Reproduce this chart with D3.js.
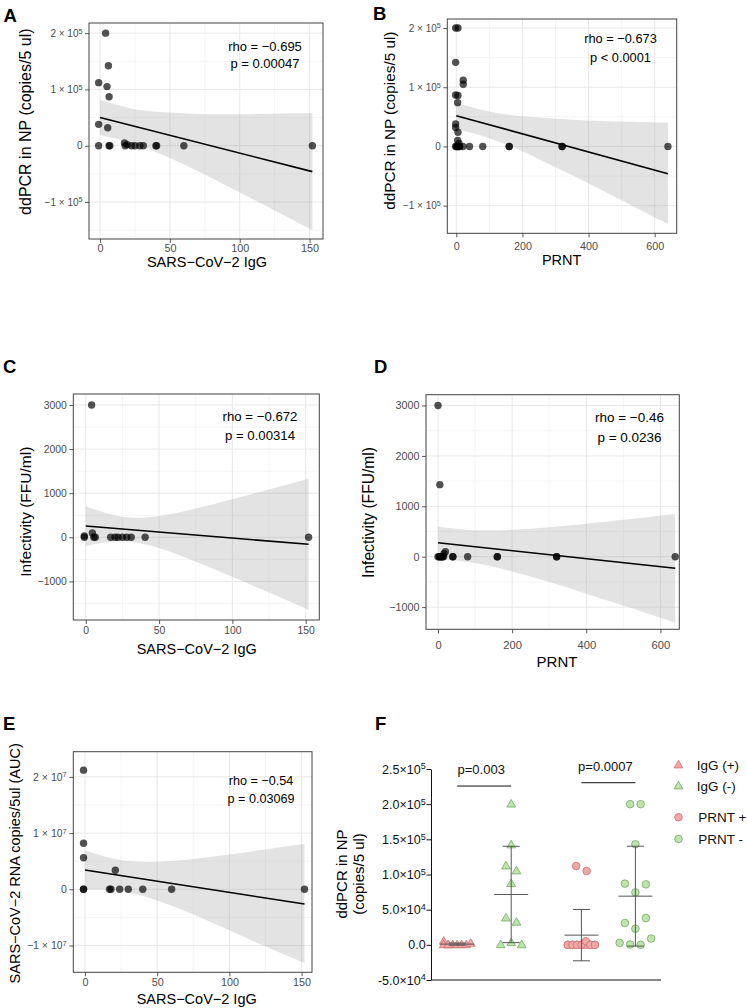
<!DOCTYPE html>
<html>
<head>
<meta charset="utf-8">
<script src="https://cdn.jsdelivr.net/npm/d3@7"></script>
<style>
body { margin: 0; background: #fff; }
svg text { font-family: "Liberation Sans", Arial, Helvetica, sans-serif; }
</style>
</head>
<body>
<div id="fig"></div>
<script>
// ---- panel A : ddPCR vs SARS-CoV-2 IgG ----
var aX = [4, 6, -1, 5, 6.5, -1, 5.5, -1, 6.5, 7, 17.5, 18, 19.5, 22.5, 25, 28.5, 31, 40, 40.5, 60, 152];
var aY = [200000, 142000, 112000, 105000, 87000, 38000, 32000, 0, 0, 0, 5000, 0, 2000, 0, 0, 0, 0, 0, 0, 0, 0];
var aBandX = [0, 25, 50, 75, 100, 125, 152];
var aBandLo = [19000, 3000, -22000, -51000, -83000, -115000, -150000];
var aBandHi = [81000, 65000, 59000, 56000, 56000, 57000, 58000];
var aFitX = [0, 152], aFitY = [50000, -46000];
var aXTicks = [0, 50, 100, 150], aYTicks = [-100000, 0, 100000, 200000];
var aStats = ["rho = \u22120.695", "p = 0.00047"];

// ---- panel B : ddPCR vs PRNT ----
var bX = [-2, 5, -2, 21, 21, -2, 5, 4, -2, -2, 5, 4, 8, -2, 0, 3, 5, 8, 10, 20, 40, 80, 160, 160, 320, 320, 640];
var bY = [200000, 200000, 142000, 112000, 105000, 87000, 86000, 74000, 38000, 32000, 24000, 10000, 5000, 0, 0, 0, 0, 0, 0, 0, 0, 0, 0, 0, 0, 0, 0];
var bBandX = [0, 100, 200, 300, 400, 500, 640];
var bBandLo = [30000, 14000, -8000, -35000, -62000, -91000, -131000];
var bBandHi = [74000, 59000, 51000, 47000, 44000, 42000, 40000];
var bFitX = [0, 640], bFitY = [52000, -46000];
var bXTicks = [0, 200, 400, 600], bYTicks = [-100000, 0, 100000, 200000];
var bStats = ["rho = \u22120.673", "p < 0.0001"];

// ---- panel C : infectivity vs IgG ----
var cX = [-1, -1, 4, 4.5, 5.5, 6.5, 17, 20, 22, 25, 28, 31, 40.5, 152];
var cY = [30, 0, 3000, 100, 0, 0, 0, 0, 0, 0, 0, 0, 0, 0];
var cBandX = [0, 25, 50, 75, 100, 125, 152];
var cBandLo = [-194, -89, -242, -552, -897, -1254, -1644];
var cBandHi = [706, 465, 482, 654, 863, 1084, 1326];
var cFitX = [0, 152], cFitY = [256, -159];
var cXTicks = [0, 50, 100, 150], cYTicks = [-1000, 0, 1000, 2000, 3000];
var cStats = ["rho = \u22120.672", "p = 0.00314"];

// ---- panel D : infectivity vs PRNT ----
var dX = [0, 5, 0, 3, 5, 8, 10, 12, 15, 16, 20, 40, 40, 80, 160, 160, 320, 320, 640];
var dY = [3000, 1430, 0, 0, 0, 0, 0, 0, 0, 60, 100, 0, 0, 0, 0, 0, 0, 0, 0];
var dBandX = [0, 100, 200, 300, 400, 500, 640];
var dBandLo = [-39, -127, -295, -504, -733, -969, -1308];
var dBandHi = [595, 525, 533, 584, 653, 731, 848];
var dFitX = [0, 640], dFitY = [278, -230];
var dXTicks = [0, 200, 400, 600], dYTicks = [-1000, 0, 1000, 2000, 3000];
var dStats = ["rho = \u22120.46", "p = 0.0236"];

// ---- panel E : RNA AUC vs IgG ----
var eX = [-1, -1, -1, 21, -1, -1, 17, 18, 24, 30, 40, 60, 152];
var eY = [21200000, 8200000, 5600000, 3400000, 0, 0, 0, 0, 0, 0, 0, 0, 0];
var eBandX = [0, 25, 50, 75, 100, 125, 152];
var eBandLo = [0, -300000, -2000000, -4500000, -7300000, -10200000, -13100000];
var eBandHi = [6900000, 5200000, 4900000, 5400000, 6200000, 7100000, 8100000];
var eFitX = [0, 152], eFitY = [3430000, -2620000];
var eXTicks = [0, 50, 100, 150], eYTicks = [-10000000, 0, 10000000, 20000000];
var eStats = ["rho = \u22120.54", "p = 0.03069"];

// ---- panel F : ddPCR by serostatus ----
var fNames = ["IgG (+)", "IgG (-)", "PRNT +", "PRNT -"];
var fIgGPos = [5000, 0, 0, 0, 0, 0, 2000, 0, 0];
var fIgGNeg = [200000, 142000, 112000, 105000, 87000, 38000, 32000, 0, 3000, 0];
var fPrntPos = [112000, 105000, 0, 0, 0, 0, 0, 0, 0, 0, 0, 0, 0, 5200, 0, 0];
var fPrntNeg = [200000, 200000, 143000, 87000, 74500, 86000, 31000, 23000, 38000, 2800, 500, 0, 9000];
var fMean = [1000, 71600, 13800, 69200];
var fSD = [1500, 68500, 36500, 71000];
var fYTicks = [-50000, 0, 50000, 100000, 150000, 200000, 250000];
var fP = ["p=0.003", "p=0.0007"];

var svg = d3.select("#fig").append("svg")
  .attr("width", 747).attr("height", 1008)
  .style("background", "#fff");

function sciTicks(sel, exp, fs) {
  sel.selectAll(".tick text").each(function(d) {
    var t = d3.select(this).text(null);
    if (d === 0) { t.text("0"); return; }
    var m = d / Math.pow(10, exp);
    t.append("tspan").text((m < 0 ? "\u2212" : "") + Math.abs(m) + " \u00d7 10");
    t.append("tspan").attr("dy", "-0.45em").attr("font-size", (fs * 0.72) + "px").text(exp);
  });
}

function styleAxis(sel, fs, col) {
  sel.attr("font-size", fs).attr("font-family", null);
  sel.select(".domain").remove();
  sel.selectAll(".tick line").attr("stroke", "#333").attr("stroke-width", 0.8);
  sel.selectAll(".tick text").attr("fill", col);
}

function scatterPanel(p) {
  var b = p.box;
  var x = d3.scaleLinear().domain(p.xDom).range([b.l, b.r]);
  var y = d3.scaleLinear().domain(p.yDom).range([b.b, b.t]);
  var g = svg.append("g");

  g.append("rect").attr("x", b.l).attr("y", b.t).attr("width", b.r - b.l).attr("height", b.b - b.t).attr("fill", "#fff");

  g.selectAll(".xmin").data(p.xMinor).enter().append("line")
    .attr("x1", x).attr("x2", x).attr("y1", b.t).attr("y2", b.b).attr("stroke", "#f5f5f5");
  g.selectAll(".ymin").data(p.yMinor).enter().append("line")
    .attr("y1", y).attr("y2", y).attr("x1", b.l).attr("x2", b.r).attr("stroke", "#f5f5f5");
  g.selectAll(".xmaj").data(p.xTicks).enter().append("line")
    .attr("x1", x).attr("x2", x).attr("y1", b.t).attr("y2", b.b).attr("stroke", "#e8e8e8");
  g.selectAll(".ymaj").data(p.yTicks).enter().append("line")
    .attr("y1", y).attr("y2", y).attr("x1", b.l).attr("x2", b.r).attr("stroke", "#e8e8e8");

  var band = p.bandX.map(function(v, i) { return {x: v, lo: p.bandLo[i], hi: p.bandHi[i]}; });
  g.append("path").datum(band)
    .attr("d", d3.area().x(function(d) { return x(d.x); })
      .y0(function(d) { return y(d.lo); }).y1(function(d) { return y(d.hi); })
      .curve(d3.curveNatural))
    .attr("fill", "#999").attr("fill-opacity", 0.28);

  g.selectAll("circle.pt").data(p.xs).enter().append("circle")
    .attr("class", "pt")
    .attr("cx", function(d) { return x(d); })
    .attr("cy", function(d, i) { return y(p.ys[i]); })
    .attr("r", 3.7)
    .attr("fill", "#000").attr("fill-opacity", 0.68);

  var fit = p.fitX.map(function(v, i) { return [v, p.fitY[i]]; });
  g.append("path").datum(fit)
    .attr("d", d3.line().x(function(d) { return x(d[0]); }).y(function(d) { return y(d[1]); }))
    .attr("fill", "none").attr("stroke", "#000").attr("stroke-width", 1.6);

  g.append("rect").attr("x", b.l).attr("y", b.t).attr("width", b.r - b.l).attr("height", b.b - b.t)
    .attr("fill", "none").attr("stroke", "#444").attr("stroke-width", 1);

  var xa = g.append("g").attr("transform", "translate(0," + b.b + ")")
    .call(d3.axisBottom(x).tickValues(p.xTicks).tickSize(4)
      .tickPadding(p.xTickBase - b.b - 4 - 0.71 * p.tickFs).tickFormat(d3.format("d")));
  styleAxis(xa, p.tickFs, "#4d4d4d");

  var ya = g.append("g").attr("transform", "translate(" + b.l + ",0)")
    .call(d3.axisLeft(y).tickValues(p.yTicks).tickSize(4).tickPadding(2.5).tickFormat(d3.format("d")));
  styleAxis(ya, p.yTickFs, "#4d4d4d");
  if (p.exp) sciTicks(ya, p.exp, p.yTickFs);

  g.append("text").attr("x", p.xTitleX).attr("y", p.xTitleY)
    .attr("text-anchor", "middle").attr("font-size", p.xTitleFs).text(p.xTitle);
  g.append("text").attr("transform", "translate(" + p.yTitleX + "," + p.yTitleY + ") rotate(-90)")
    .attr("text-anchor", "middle").attr("dy", "0.35em").attr("font-size", p.yTitleFs).text(p.yTitle);

  g.selectAll("text.stat").data(p.stats).enter().append("text")
    .attr("class", "stat")
    .attr("x", p.statX).attr("y", function(d, i) { return p.statY[i]; })
    .attr("dy", "0.35em").attr("text-anchor", "middle")
    .attr("font-size", p.statFs).text(function(d) { return d; });

  svg.append("text").attr("x", p.lx).attr("y", p.ly)
    .attr("font-size", 18.5).attr("font-weight", "bold").text(p.letter);
}

var igg = "SARS\u2212CoV\u22122 IgG";
var panels = [
  {letter: "A", lx: 3.5, ly: 21.5, xs: aX, ys: aY, bandX: aBandX, bandLo: aBandLo, bandHi: aBandHi, fitX: aFitX, fitY: aFitY,
   box: {l: 89, r: 323, t: 23, b: 239}, xDom: [-7.9, 159.6], yDom: [-165700, 218000],
   xTicks: aXTicks, xMinor: [25, 75, 125], yTicks: aYTicks, yMinor: [-150000, -50000, 50000, 150000], exp: 5,
   tickFs: 10.8, yTickFs: 10, xTickBase: 251.5, xTitle: igg, xTitleX: 207, xTitleY: 267, xTitleFs: 14.5,
   yTitle: "ddPCR in NP (copies/5 ul)", yTitleX: 25, yTitleY: 121.7, yTitleFs: 16,
   stats: aStats, statX: 265, statY: [46, 63], statFs: 13},
  {letter: "B", lx: 373, ly: 20, xs: bX, ys: bY, bandX: bBandX, bandLo: bBandLo, bandHi: bBandHi, fitX: bFitX, fitY: bFitY,
   box: {l: 447.3, r: 676.7, t: 19, b: 233.3}, xDom: [-27.2, 666.5], yDom: [-146600, 215200],
   xTicks: bXTicks, xMinor: [100, 300, 500], yTicks: bYTicks, yMinor: [-50000, 50000, 150000], exp: 5,
   tickFs: 10.8, yTickFs: 10, xTickBase: 250.5, xTitle: "PRNT", xTitleX: 561.7, xTitleY: 264.5, xTitleFs: 14.5,
   yTitle: "ddPCR in NP (copies/5 ul)", yTitleX: 389.3, yTitleY: 120.7, yTitleFs: 15.3,
   stats: bStats, statX: 620.5, statY: [39, 57.7], statFs: 12.8},
  {letter: "C", lx: 3, ly: 373, xs: cX, ys: cY, bandX: cBandX, bandLo: cBandLo, bandHi: cBandHi, fitX: cFitX, fitY: cFitY,
   box: {l: 73.3, r: 319.3, t: 394, b: 620}, xDom: [-8.5, 159.3], yDom: [-1875, 3249],
   xTicks: cXTicks, xMinor: [25, 75, 125], yTicks: cYTicks, yMinor: [-1500, -500, 500, 1500, 2500], exp: 0,
   tickFs: 10.4, yTickFs: 10.4, xTickBase: 634, xTitle: igg, xTitleX: 196.7, xTitleY: 653.5, xTitleFs: 14.5,
   yTitle: "Infectivity (FFU/ml)", yTitleX: 25.7, yTitleY: 511.7, yTitleFs: 15.5,
   stats: cStats, statX: 260, statY: [416.5, 435.8], statFs: 13.2},
  {letter: "D", lx: 374, ly: 373, xs: dX, ys: dY, bandX: dBandX, bandLo: dBandLo, bandHi: dBandHi, fitX: dFitX, fitY: dFitY,
   box: {l: 426, r: 679.3, t: 394.7, b: 629.3}, xDom: [-32.4, 651], yDom: [-1440, 3214],
   xTicks: dXTicks, xMinor: [100, 300, 500], yTicks: dYTicks, yMinor: [-500, 500, 1500, 2500], exp: 0,
   tickFs: 11.2, yTickFs: 10.8, xTickBase: 649.5, xTitle: "PRNT", xTitleX: 557, xTitleY: 667, xTitleFs: 15,
   yTitle: "Infectivity (FFU/ml)", yTitleX: 368.3, yTitleY: 512.5, yTitleFs: 15.6,
   stats: dStats, statX: 629.5, statY: [417, 437.5], statFs: 13.5},
  {letter: "E", lx: 3, ly: 730, xs: eX, ys: eY, bandX: eBandX, bandLo: eBandLo, bandHi: eBandHi, fitX: eFitX, fitY: eFitY,
   box: {l: 73.3, r: 312, t: 751.7, b: 972.3}, xDom: [-8.1, 157.2], yDom: [-14770000, 24480000],
   xTicks: eXTicks, xMinor: [25, 75, 125], yTicks: eYTicks, yMinor: [-5000000, 5000000, 15000000], exp: 7,
   tickFs: 10.8, yTickFs: 10.5, xTickBase: 986.5, xTitle: igg, xTitleX: 196.7, xTitleY: 1003.5, xTitleFs: 14.5,
   yTitle: "SARS\u2212CoV\u22122 RNA copies/5ul (AUC)", yTitleX: 15, yTitleY: 863.3, yTitleFs: 14.5,
   stats: eStats, statX: 261, statY: [780.7, 799], statFs: 12.6}
];
panels.forEach(scatterPanel);

// ---- panel F ----
var pink = {fill: "#f2a6a6", stroke: "#c97474"}, green = {fill: "#bfe3ae", stroke: "#76a862"};
var fSeries = [
  {name: fNames[0], pair: "IgG", side: "+", shape: "tri", col: pink, vals: fIgGPos},
  {name: fNames[1], pair: "IgG", side: "-", shape: "tri", col: green, vals: fIgGNeg},
  {name: fNames[2], pair: "PRNT", side: "+", shape: "dot", col: pink, vals: fPrntPos},
  {name: fNames[3], pair: "PRNT", side: "-", shape: "dot", col: green, vals: fPrntNeg}
];

var yF = d3.scaleLinear().domain([-50000, 250000]).range([980, 769]);
var pairX = d3.scalePoint().domain(["IgG", "PRNT"]).range([484.2, 608.4]);
var sideX = d3.scalePoint().domain(["+", "-"]).range([-27, 27]);
var triPath = "M0,-4.7L4.4,2.9L-4.4,2.9Z";

function swarm(vals) {
  var rows = [], cur = null;
  vals.forEach(function(v, i) {
    var py = yF(v);
    if (!cur || Math.abs(py - cur.y0) > 12) { cur = {y0: py, idx: []}; rows.push(cur); }
    cur.idx.push(i);
  });
  var off = [];
  rows.forEach(function(r) {
    var n = r.idx.length, w = Math.min(n, 7), sp = n <= 4 ? 10.5 : 4.5;
    r.idx.forEach(function(k, j) { off[k] = ((j % w) - (w - 1) / 2) * sp; });
  });
  return off;
}

var gF = svg.append("g");
fSeries.forEach(function(s, si) {
  var cx = pairX(s.pair) + sideX(s.side);
  var off = swarm(s.vals);
  gF.append("g").selectAll("path").data(s.vals).enter().append("path")
    .attr("transform", function(d, i) { return "translate(" + (cx + off[i]) + "," + yF(d) + ")"; })
    .attr("d", s.shape === "tri" ? triPath : d3.symbol(d3.symbolCircle, Math.PI * 3.8 * 3.8)())
    .attr("fill", s.col.fill).attr("stroke", s.col.stroke).attr("stroke-width", 0.8);

  var m = fMean[si], sd = fSD[si];
  var eb = gF.append("g").attr("stroke", "#555").attr("stroke-width", 1);
  eb.append("line").attr("x1", cx).attr("x2", cx).attr("y1", yF(m - sd)).attr("y2", yF(m + sd));
  eb.append("line").attr("x1", cx - 8.5).attr("x2", cx + 8.5).attr("y1", yF(m - sd)).attr("y2", yF(m - sd));
  eb.append("line").attr("x1", cx - 8.5).attr("x2", cx + 8.5).attr("y1", yF(m + sd)).attr("y2", yF(m + sd));
  eb.append("line").attr("x1", cx - 17).attr("x2", cx + 17).attr("y1", yF(m)).attr("y2", yF(m));
});

// significance bars
var barVal = [225800, 230500];
pairX.domain().forEach(function(pr, i) {
  var yb = yF(barVal[i]);
  gF.append("line").attr("x1", pairX(pr) + sideX("+")).attr("x2", pairX(pr) + sideX("-"))
    .attr("y1", yb).attr("y2", yb).attr("stroke", "#111").attr("stroke-width", 1);
  gF.append("text").attr("x", pairX(pr) - 3).attr("y", yb - 12)
    .attr("text-anchor", "middle").attr("font-size", 13).attr("fill", "#111").text(fP[i]);
});

// axes
var fya = gF.append("g").attr("transform", "translate(431,0)")
  .call(d3.axisLeft(yF).tickValues(fYTicks).tickSize(4.5).tickSizeOuter(0).tickPadding(0.8));
fya.attr("font-size", 12.5).attr("font-family", null);
fya.select(".domain").attr("stroke", "#111");
fya.selectAll(".tick line").attr("stroke", "#111");
fya.selectAll(".tick text").attr("fill", "#111").each(function(d) {
  var t = d3.select(this).text(null);
  if (d === 0) { t.text("0.0"); return; }
  var e = Math.floor(Math.log10(Math.abs(d)));
  var m = d / Math.pow(10, e);
  t.append("tspan").text(m.toFixed(1) + "\u00d710");
  t.append("tspan").attr("dy", "-0.45em").attr("font-size", "9px").text(e);
});
gF.append("line").attr("x1", 431).attr("x2", 661).attr("y1", 980).attr("y2", 980)
  .attr("stroke", "#111").attr("stroke-width", 1);

gF.append("text").attr("transform", "translate(350.8,874) rotate(-90)")
  .attr("text-anchor", "middle").attr("font-size", 15)
  .selectAll("tspan").data(["ddPCR in NP", "(copies/5 ul)"]).enter().append("tspan")
  .attr("x", 0).attr("dy", function(d, i) { return i === 0 ? "-0.25em" : "1.1em"; })
  .text(function(d) { return d; });

// legend
var legY = [765, 786, 817.3, 839];
var leg = gF.selectAll("g.leg").data(fSeries).enter().append("g").attr("class", "leg")
  .attr("transform", function(d, i) { return "translate(678.5," + legY[i] + ")"; });
leg.append("path")
  .attr("d", function(d) { return d.shape === "tri" ? triPath : d3.symbol(d3.symbolCircle, Math.PI * 3.8 * 3.8)(); })
  .attr("fill", function(d) { return d.col.fill; }).attr("stroke", function(d) { return d.col.stroke; })
  .attr("stroke-width", 0.8);
leg.append("text").attr("x", function(d) { return d.shape === "tri" ? 18.2 : 19.8; }).attr("dy", "0.36em")
  .attr("font-size", 13.5).attr("fill", "#111").text(function(d) { return d.name; });

svg.append("text").attr("x", 375).attr("y", 730)
  .attr("font-size", 18.5).attr("font-weight", "bold").text("F");
</script>
</body>
</html>
